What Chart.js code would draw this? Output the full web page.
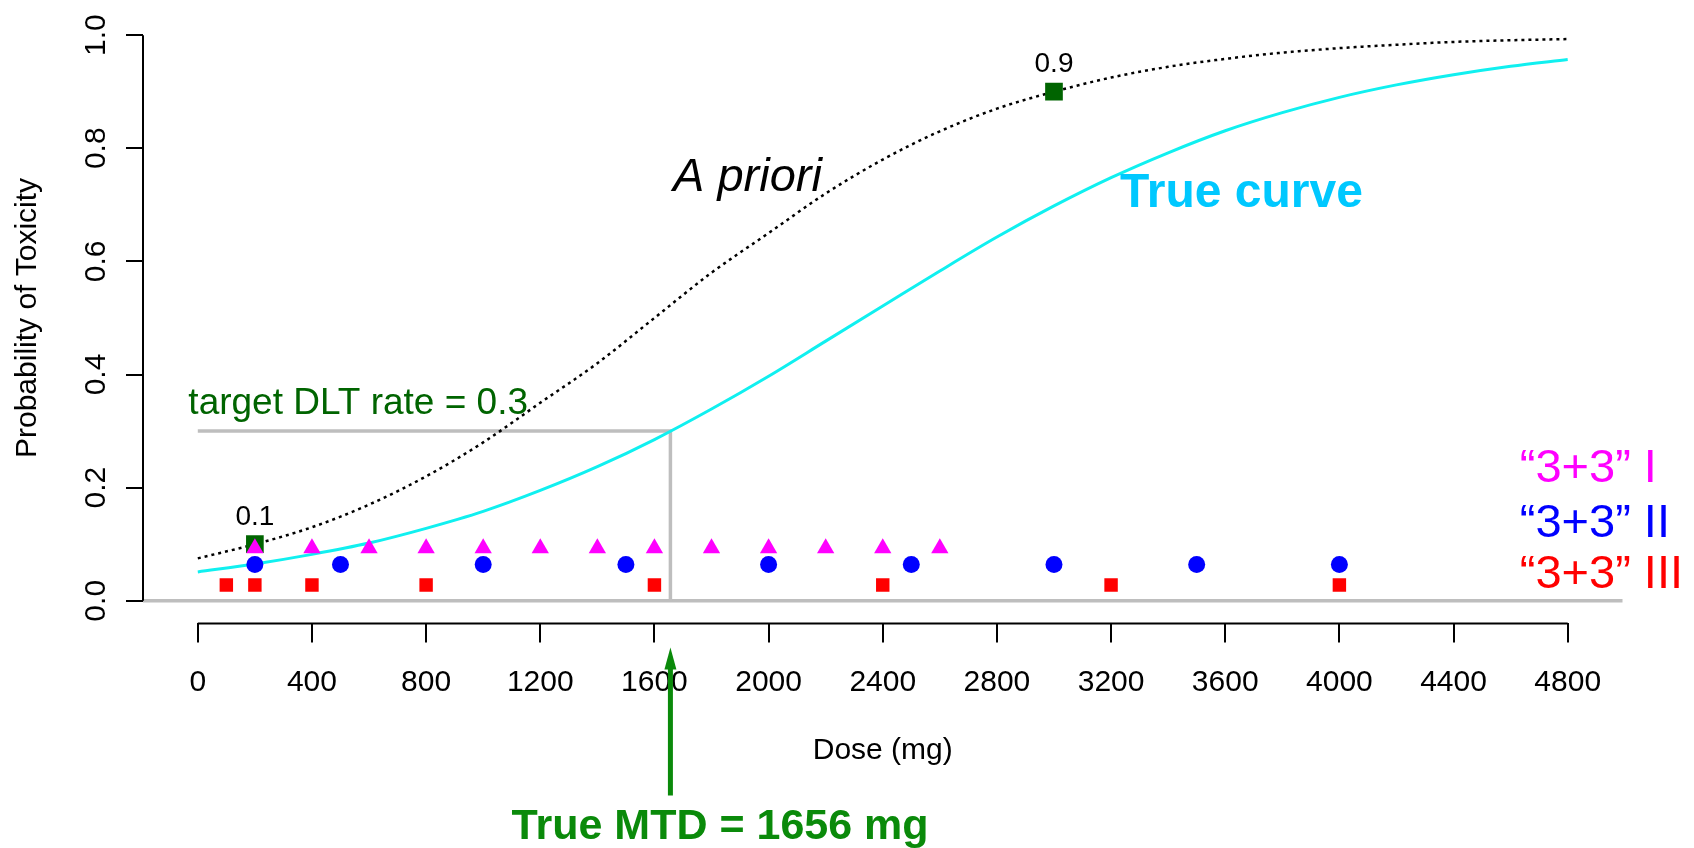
<!DOCTYPE html>
<html>
<head>
<meta charset="utf-8">
<title>Probability of Toxicity vs Dose</title>
<script src="https://cdn.jsdelivr.net/npm/chart.js@4.4.1/dist/chart.umd.min.js"></script>
<style>
  html, body { margin: 0; padding: 0; background: #fff; }
  canvas { display: block; }
</style>
</head>
<body>
<canvas id="doseChart" width="1694" height="848"></canvas>
<script>
'use strict';

const doses = [0, 200, 400, 600, 800, 1000, 1200, 1400, 1600, 1800, 2000, 2200, 2400,
  2600, 2800, 3000, 3200, 3400, 3600, 3800, 4000, 4200, 4400, 4600, 4800];
const aPriori = [0.075, 0.10, 0.13, 0.17, 0.22, 0.28, 0.35, 0.42, 0.50, 0.58, 0.65, 0.72, 0.78,
  0.83, 0.87, 0.90, 0.925, 0.944, 0.958, 0.969, 0.977, 0.983, 0.988, 0.991, 0.993];
const trueCurve = [0.051, 0.065, 0.082, 0.102, 0.128, 0.158, 0.195, 0.237, 0.285, 0.339, 0.397, 0.459, 0.521,
  0.583, 0.643, 0.698, 0.748, 0.792, 0.831, 0.863, 0.890, 0.912, 0.930, 0.945, 0.957];

// the three "3+3" designs, dose levels (plotted on a fixed row each)
const arm1Doses = [200, 400, 600, 800, 1000, 1200, 1400, 1600, 1800, 2000, 2200, 2400, 2600];
const arm1Row = 0.093;
const arm2Doses = [200, 500, 1000, 1500, 2000, 2500, 3000, 3500, 4000];
const arm2Row = 0.064;
const arm3Doses = [100, 200, 400, 800, 1600, 2400, 3200, 4000];
const arm3Row = 0.028;

// prior elicitation points
const priorDoses = [200, 3000];
const priorProbs = [0.1, 0.9];

const targetRate = 0.3;
const trueMTD = 1656;

const xTicks = [0, 400, 800, 1200, 1600, 2000, 2400, 2800, 3200, 3600, 4000, 4400, 4800];
const yTicks = [0, 0.2, 0.4, 0.6, 0.8, 1.0];
const yTickLabels = ['0.0', '0.2', '0.4', '0.6', '0.8', '1.0'];

const FONT = "'Liberation Sans', Arial, Helvetica, sans-serif";
const GREY = '#bebebe';
const DARK_GREEN = '#006400';
const MTD_GREEN = '#0a8a0a';

const pts = (xs, ys) => xs.map((d, i) => ({ x: d, y: Array.isArray(ys) ? ys[i] : ys }));

const annotate = {
  id: 'annotate',
  beforeDatasetsDraw(chart) {
    const { ctx, chartArea: a, scales: { y } } = chart;
    const y0 = y.getPixelForValue(0);
    ctx.save();
    ctx.strokeStyle = GREY;
    ctx.lineWidth = 3.5;
    ctx.beginPath();
    ctx.moveTo(a.left, y0);
    ctx.lineTo(a.right, y0);
    ctx.stroke();
    ctx.restore();
  },
  afterDraw(chart) {
    const { ctx, chartArea: a, scales: { x, y } } = chart;
    ctx.save();

    // axis lines only span the tick range, like R
    ctx.strokeStyle = '#000';
    ctx.lineWidth = 2;
    ctx.beginPath();
    ctx.moveTo(x.getPixelForValue(xTicks[0]), a.bottom);
    ctx.lineTo(x.getPixelForValue(xTicks[xTicks.length - 1]), a.bottom);
    ctx.moveTo(a.left, y.getPixelForValue(yTicks[0]));
    ctx.lineTo(a.left, y.getPixelForValue(yTicks[yTicks.length - 1]));
    ctx.stroke();

    // rotated y tick labels
    ctx.fillStyle = '#000';
    ctx.font = '30px ' + FONT;
    ctx.textAlign = 'center';
    ctx.textBaseline = 'middle';
    yTicks.forEach((v, i) => {
      ctx.save();
      ctx.translate(a.left - 46, y.getPixelForValue(v));
      ctx.rotate(-Math.PI / 2);
      ctx.fillText(yTickLabels[i], 0, 0);
      ctx.restore();
    });

    // labels above the prior points
    ctx.font = '28px ' + FONT;
    priorDoses.forEach((d, i) => {
      ctx.fillText(String(priorProbs[i]), x.getPixelForValue(d), y.getPixelForValue(priorProbs[i]) - 27);
    });

    ctx.fillStyle = DARK_GREEN;
    ctx.font = '37px ' + FONT;
    ctx.fillText('target DLT rate = ' + targetRate, x.getPixelForValue(562), y.getPixelForValue(0.348));

    ctx.fillStyle = '#000';
    ctx.font = 'italic 47px ' + FONT;
    ctx.fillText('A priori', x.getPixelForValue(1926), y.getPixelForValue(0.747));

    ctx.fillStyle = '#00c8ff';
    ctx.font = 'bold 48px ' + FONT;
    ctx.fillText('True curve', x.getPixelForValue(3657), y.getPixelForValue(0.719));

    // design legend
    ctx.textAlign = 'left';
    ctx.font = '47px ' + FONT;
    [['\u201c3+3\u201d I', '#ff00ff', 0.232],
     ['\u201c3+3\u201d II', '#0000ff', 0.135],
     ['\u201c3+3\u201d III', '#ff0000', 0.045]].forEach(([t, c, v]) => {
      ctx.fillStyle = c;
      ctx.fillText(t, x.getPixelForValue(4632), y.getPixelForValue(v));
    });

    // arrow to the true MTD
    const ax = x.getPixelForValue(trueMTD);
    ctx.strokeStyle = MTD_GREEN;
    ctx.fillStyle = MTD_GREEN;
    ctx.lineWidth = 5;
    ctx.beginPath();
    ctx.moveTo(ax, a.bottom + 172);
    ctx.lineTo(ax, a.bottom + 40);
    ctx.stroke();
    ctx.beginPath();
    ctx.moveTo(ax, a.bottom + 24);
    ctx.lineTo(ax - 6, a.bottom + 46);
    ctx.lineTo(ax + 6, a.bottom + 46);
    ctx.closePath();
    ctx.fill();

    ctx.textAlign = 'center';
    ctx.font = 'bold 43px ' + FONT;
    ctx.fillText('True MTD = ' + trueMTD + ' mg', x.getPixelForValue(1830), a.bottom + 204);

    ctx.restore();
  }
};

new Chart(document.getElementById('doseChart'), {
  type: 'scatter',
  data: {
    datasets: [
      {
        label: 'target',
        data: [{ x: 0, y: targetRate }, { x: trueMTD, y: targetRate }, { x: trueMTD, y: 0 }],
        showLine: true,
        borderColor: GREY,
        borderWidth: 3.5,
        pointRadius: 0,
        order: 9
      },
      {
        label: 'A priori',
        data: pts(doses, aPriori),
        showLine: true,
        borderColor: '#000',
        borderWidth: 2.5,
        borderDash: [3, 4],
        cubicInterpolationMode: 'monotone',
        pointRadius: 0,
        order: 8
      },
      {
        label: 'True curve',
        data: pts(doses, trueCurve),
        showLine: true,
        borderColor: '#10f0f0',
        borderWidth: 3,
        cubicInterpolationMode: 'monotone',
        pointRadius: 0,
        order: 7
      },
      {
        label: 'prior points',
        data: pts(priorDoses, priorProbs),
        pointStyle: 'rect',
        pointRadius: 12.5,
        backgroundColor: DARK_GREEN,
        borderWidth: 0,
        order: 6
      },
      {
        label: '"3+3" I',
        data: pts(arm1Doses, arm1Row),
        pointStyle: 'triangle',
        pointRadius: 10,
        backgroundColor: '#ff00ff',
        borderWidth: 0,
        order: 3
      },
      {
        label: '"3+3" II',
        data: pts(arm2Doses, arm2Row),
        pointStyle: 'circle',
        pointRadius: 8.5,
        backgroundColor: '#0000ff',
        borderWidth: 0,
        order: 2
      },
      {
        label: '"3+3" III',
        data: pts(arm3Doses, arm3Row),
        pointStyle: 'rect',
        pointRadius: 9.5,
        backgroundColor: '#ff0000',
        borderWidth: 0,
        order: 1
      }
    ]
  },
  options: {
    responsive: false,
    animation: false,
    events: [],
    layout: { padding: { left: 0, right: 71.5, top: 4.5, bottom: 0 } },
    plugins: {
      legend: { display: false },
      tooltip: { enabled: false }
    },
    scales: {
      x: {
        type: 'linear',
        min: -192,
        max: 4992,
        afterBuildTicks: (s) => { s.ticks = xTicks.map(v => ({ value: v })); },
        afterFit: (s) => { s.height = 224.6; },
        border: { display: false },
        grid: { drawOnChartArea: false, drawTicks: true, tickLength: 19, color: '#000', lineWidth: 2 },
        ticks: {
          autoSkip: false,
          maxRotation: 0,
          padding: 22,
          color: '#000',
          font: { size: 30, family: FONT },
          callback: (v) => String(v)
        },
        title: {
          display: true,
          text: 'Dose (mg)',
          color: '#000',
          font: { size: 30, family: FONT },
          padding: { top: 0, bottom: 79 }
        }
      },
      y: {
        type: 'linear',
        min: -0.04,
        max: 1.04,
        afterBuildTicks: (s) => { s.ticks = yTicks.map(v => ({ value: v })); },
        afterFit: (s) => { s.width = 143; },
        border: { display: false },
        grid: { drawOnChartArea: false, drawTicks: true, tickLength: 17, color: '#000', lineWidth: 2 },
        ticks: { display: false },
        title: {
          display: true,
          text: 'Probability of Toxicity',
          color: '#000',
          font: { size: 30, family: FONT },
          padding: { top: 10, bottom: 0 }
        }
      }
    }
  },
  plugins: [annotate]
});
</script>
</body>
</html>
